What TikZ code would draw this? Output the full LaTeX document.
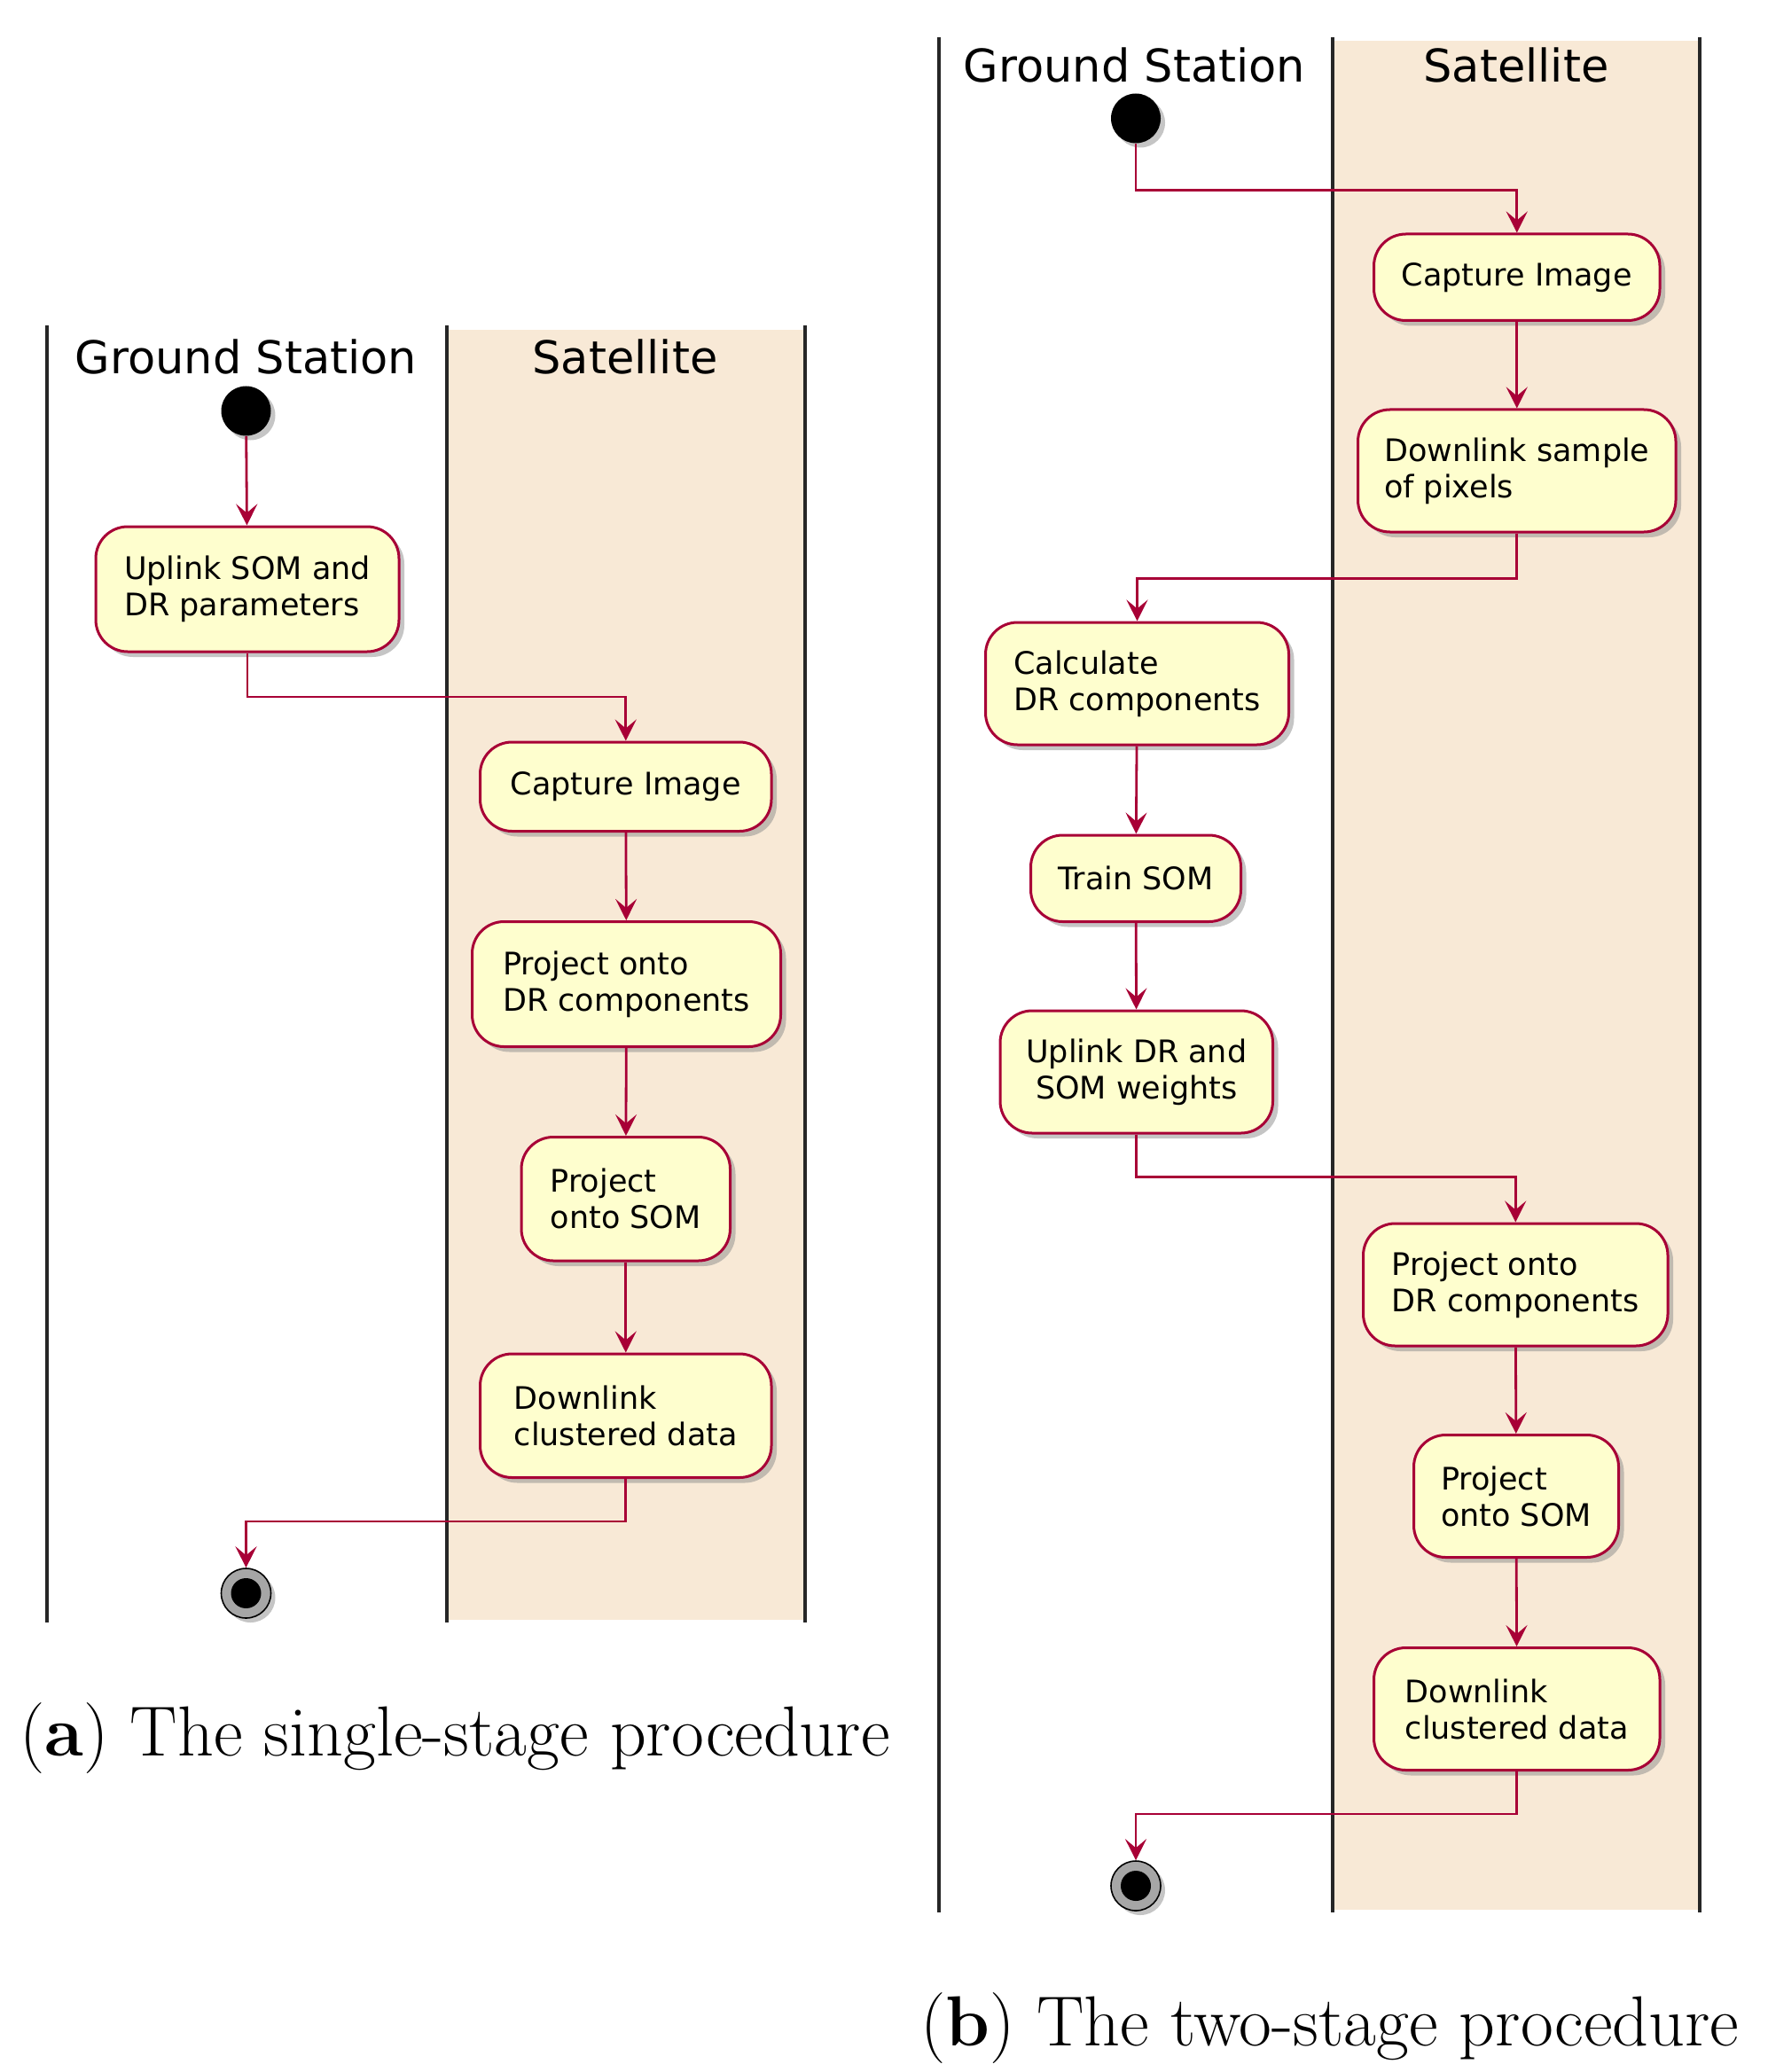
\documentclass[tikz,border=0pt]{standalone}
\usepackage{fontspec}
\usetikzlibrary{arrows.meta,shadows}
\newfontfamily\dejavu{DejaVu Sans}
\definecolor{boxfill}{HTML}{FEFECE}
\definecolor{boxline}{HTML}{A80036}
\definecolor{lanefill}{HTML}{F8E9D6}
\begin{document}
\begin{tikzpicture}[x=0.75pt,y=-0.75pt,
  box/.style 2 args={draw=boxline, fill=boxfill, line width=1.5pt, rounded corners=18pt,
    minimum width=#1*0.75pt, minimum height=#2*0.75pt, align=left, inner sep=0pt,
    font=\dejavu\fontsize{17.5}{20.5}\selectfont,
    drop shadow={shadow xshift=3pt, shadow yshift=-3pt, fill=black!45, opacity=.5}},
  arr/.style={draw=boxline, line width=1.4pt, -{Stealth[length=12pt,width=12pt,inset=5pt]}},
  lane/.style={line width=2pt, draw=black!85},
  head/.style={font=\dejavu\fontsize{25.5}{29}\selectfont},
  start/.style={circle, fill=black, minimum size=28pt, inner sep=0pt,
    drop shadow={shadow xshift=2.5pt, shadow yshift=-2.5pt, fill=black!45, opacity=.5}},
  stop/.style={circle, draw=black, line width=0.8pt, fill=black!35, minimum size=28pt, inner sep=0pt,
    drop shadow={shadow xshift=2.5pt, shadow yshift=-2.5pt, fill=black!45, opacity=.5},
    path picture={\fill[black] (path picture bounding box.center) circle (8.5pt);}},
  captxt/.style={font=\fontsize{40}{46}\selectfont}]
\useasboundingbox (0,0) rectangle (1329.3,1558);
% ---------- (a) ----------
\fill[lanefill] (336,248) rectangle (605,1218);
\draw[lane] (35,245) -- (35,1220);
\draw[lane] (336,245) -- (336,1220);
\draw[lane] (605,245) -- (605,1220);
\node[head] (gha) at (185,268) {Ground Station};
\node[head] (sha) at (470,268) {Satellite};
\node[start] (sa) at (185,309) {};
\node[box={228}{94}] (ua) at (186,443) {Uplink SOM and\\DR parameters};
\node[box={219}{67}] (ca) at (470.5,591.5) {Capture Image};
\node[box={232}{94}] (pda) at (471,740) {Project onto\\DR components};
\node[box={157}{93}] (psa) at (470.5,901.5) {Project\\onto SOM};
\node[box={219}{93}] (dla) at (470.5,1064.5) {Downlink\\clustered data};
\node[stop] (ea) at (185,1198) {};
\draw[arr] (sa) -- (ua);
\draw[arr] (ua.south) -- (ua.south |- 0,524) -| (ca.north);
\draw[arr] (ca) -- (pda);
\draw[arr] (pda) -- (psa);
\draw[arr] (psa) -- (dla);
\draw[arr] (dla.south) -- (dla.south |- 0,1144) -| (ea.north);
\node[captxt] (capa) at (342,1307) {(\textbf{a}) The single-stage procedure};
% ---------- (b) ----------
\fill[lanefill] (1002,31) rectangle (1278,1436);
\draw[lane] (706,28) -- (706,1438);
\draw[lane] (1002,28) -- (1002,1438);
\draw[lane] (1278,28) -- (1278,1438);
\node[head] (ghb) at (853,49) {Ground Station};
\node[head] (shb) at (1140,49) {Satellite};
\node[start] (sb) at (854,89) {};
\node[box={215}{65}] (cb) at (1140.5,208.5) {Capture Image};
\node[box={239}{92}] (dsb) at (1140.5,354) {Downlink sample\\of pixels};
\node[box={228}{92}] (calc) at (855,514) {Calculate\\DR components};
\node[box={158}{65}] (train) at (854,660.5) {Train SOM};
\node[box={205}{92}, align=center] (up) at (854.5,806) {Uplink DR and\\SOM weights};
\node[box={229}{92}] (pdb) at (1139.5,966) {Project onto\\DR components};
\node[box={154}{92}] (psb) at (1140,1125) {Project\\onto SOM};
\node[box={215}{92}] (dlb) at (1140.5,1285) {Downlink\\clustered data};
\node[stop] (eb) at (854,1418) {};
\draw[arr] (sb.south) -- (sb.south |- 0,143) -| (cb.north);
\draw[arr] (cb) -- (dsb);
\draw[arr] (dsb.south) -- (dsb.south |- 0,435) -| (calc.north);
\draw[arr] (calc) -- (train);
\draw[arr] (train) -- (up);
\draw[arr] (up.south) -- (up.south |- 0,885) -| (pdb.north);
\draw[arr] (pdb) -- (psb);
\draw[arr] (psb) -- (dlb);
\draw[arr] (dlb.south) -- (dlb.south |- 0,1364) -| (eb.north);
\node[captxt] (capb) at (1000,1525) {(\textbf{b}) The two-stage procedure};
\end{tikzpicture}
\end{document}
